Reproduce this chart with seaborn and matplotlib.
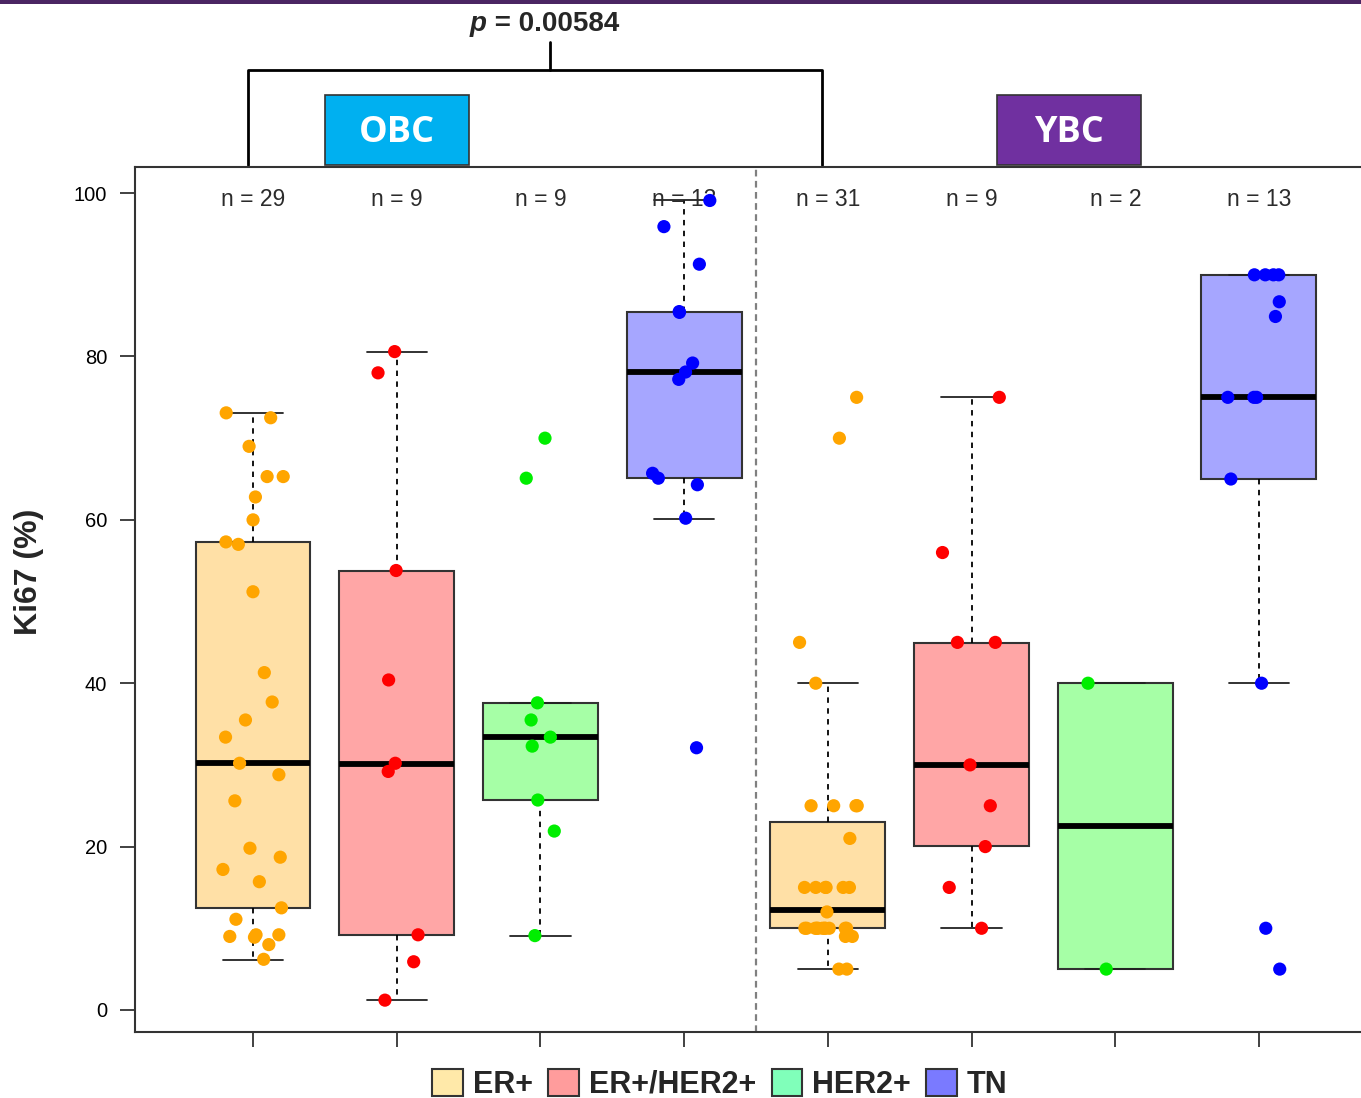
import numpy as np
import pandas as pd
import matplotlib
matplotlib.use("Agg")
import matplotlib.pyplot as plt
import matplotlib.transforms as mtransforms
from matplotlib.patches import Patch, Rectangle
from matplotlib.lines import Line2D
import seaborn as sns

# -------------------------------
# Data
# -------------------------------
groups = ["OBC ER+", "OBC ER+/HER2+", "OBC HER2+", "OBC TN",
          "YBC ER+", "YBC ER+/HER2+", "YBC HER2+", "YBC TN"]
subtypes = ["ER+", "ER+/HER2+", "HER2+", "TN"]
n_counts = [29, 9, 9, 13, 31, 9, 2, 13]

obc_er = [73.1, 72.5, 69.0, 65.3, 65.3, 62.8, 60.0, 57.3, 57.0, 51.2, 41.3,
          37.7, 35.5, 33.4, 30.2, 28.8, 25.6, 19.8, 18.7, 17.2, 15.7, 12.5,
          11.1, 9.2, 9.2, 9.0, 8.9, 8.0, 6.2]
obc_er_her2 = [80.6, 78.0, 53.8, 40.4, 30.2, 29.2, 9.2, 5.9, 1.2]
obc_her2 = [70.0, 65.1, 37.6, 35.5, 33.4, 32.3, 25.7, 21.9, 9.1]
obc_tn = [99.1, 95.9, 91.3, 85.5, 85.4, 79.2, 78.1, 77.2, 65.7, 65.1, 64.3,
          60.2, 32.1]
ybc_er = [75, 70, 45, 40, 25, 25, 25, 25, 21, 15, 15, 15, 15, 15, 15, 12,
          10, 10, 10, 10, 10, 10, 10, 10, 10, 10, 10, 9, 9, 5, 5]
ybc_er_her2 = [75, 56, 45, 45, 30, 25, 20, 15, 10]
ybc_her2 = [40, 5]
ybc_tn = [90, 90, 90, 90, 86.7, 84.9, 75, 75, 75, 65, 40, 10, 5]

# box statistics as drawn (R hinges)
box_q1 = [12.5, 9.2, 25.7, 65.1, 10.0, 20.1, 5.0, 65.0]
box_med = [30.2, 30.1, 33.4, 78.1, 12.2, 30.0, 22.5, 75.0]
box_q3 = [57.3, 53.7, 37.6, 85.4, 23.0, 44.9, 40.0, 90.0]
whisk_lo = [6.1, 1.2, 9.1, 60.1, 5.0, 10.0, 5.0, 40.0]
whisk_hi = [73.1, 80.6, 37.6, 99.1, 40.0, 75.0, 40.0, 90.0]

p_value = "0.00584"

# -------------------------------
# Colours
# -------------------------------
point_colors = ["#FFA500", "#FF0000", "#00EE00", "#0000FF"]
box_colors = ["#FFE0A6", "#FFA6A6", "#A6FFA6", "#A6A6FF"]
legend_colors = ["#FFE9A9", "#FF9C9C", "#80FFBA", "#7A7AFF"]

# -------------------------------
# Long-format frame
# -------------------------------
series = [obc_er, obc_er_her2, obc_her2, obc_tn,
          ybc_er, ybc_er_her2, ybc_her2, ybc_tn]
rows = []
for g, vals in zip(groups, series):
    sub = g.split(" ", 1)[1]
    for v in vals:
        rows.append({"group": g, "subtype": sub, "ki67": v})
df = pd.DataFrame(rows)

# -------------------------------
# Plot
# -------------------------------
sns.set_style("ticks")
plt.rcParams["font.family"] = ["Liberation Sans", "DejaVu Sans"]

fig = plt.figure(figsize=(13.61, 10.98), dpi=100)
ax = fig.add_axes([135 / 1361, 1 - 1032 / 1098, 1 - 135 / 1361, 865 / 1098])

stats = []
for i in range(len(groups)):
    stats.append(dict(med=box_med[i], q1=box_q1[i], q3=box_q3[i],
                      whislo=whisk_lo[i], whishi=whisk_hi[i], fliers=[]))
bp = ax.bxp(stats, positions=range(len(groups)), widths=0.8, patch_artist=True,
            showfliers=False, manage_ticks=False, capwidths=0.42,
            boxprops=dict(edgecolor="#333333", linewidth=1.5),
            medianprops=dict(color="black", linewidth=4.2, solid_capstyle="butt"),
            whiskerprops=dict(color="black", linewidth=1.3, linestyle=(0, (3, 3))),
            capprops=dict(color="#222222", linewidth=1.3))
for i, patch in enumerate(bp["boxes"]):
    patch.set_facecolor(box_colors[i % 4])

np.random.seed(7)
sns.stripplot(data=df, x="group", y="ki67", hue="subtype", order=groups,
              hue_order=subtypes, palette=point_colors, jitter=0.22, size=9.5,
              linewidth=0, legend=False, ax=ax, zorder=4)

# n labels
for i, n in enumerate(n_counts):
    ax.text(i, 99.2, f"n = {n}", ha="center", va="center", fontsize=16.5,
            color="#2b2b2b", zorder=3)

# OBC / YBC separator
ax.axvline(3.5, color="#808080", linestyle=(0, (3, 2)), linewidth=1.6, zorder=1)

ax.set_xlim(-0.821, 7.71)
ax.set_ylim(-2.7, 103.2)
ax.set_yticks([0, 20, 40, 60, 80, 100])
ax.set_xticks(range(len(groups)))
ax.set_xticklabels([])
ax.set_xlabel("")
ax.set_ylabel("Ki67 (%)", fontsize=23, fontweight="bold")
ax.yaxis.set_label_coords(-0.074, 0.532)
ax.tick_params(axis="y", length=11, width=1.3, labelsize=14.5, pad=9, colors="#333333",
               labelcolor="black")
ax.tick_params(axis="x", length=11, width=1.3, colors="#333333")
for side in ["left", "top", "bottom"]:
    ax.spines[side].set_linewidth(1.5)
    ax.spines[side].set_color("#333333")
ax.spines["right"].set_visible(False)

# -------------------------------
# Header: bracket, p-value, cohort boxes
# -------------------------------
trans = mtransforms.blended_transform_factory(ax.transData, ax.transAxes)
yb = (1032 - 70) / 865
yleg = (1032 - 165) / 865
ytop = (1032 - 42) / 865
for xs, ys in [([-0.035, -0.035, 3.96, 3.96], [yleg, yb, yb, yleg]),
               ([2.07, 2.07], [yb, ytop])]:
    ax.add_line(Line2D(xs, ys, transform=trans, color="black", linewidth=2,
                       clip_on=False))

t1 = fig.text(470 / 1361, 1 - 24 / 1098, "p", fontsize=20, fontweight="bold",
              style="italic", ha="left", va="center")
ax.annotate(" = " + p_value, xy=(1, 0), xycoords=t1, fontsize=20,
            fontweight="bold", ha="left", va="bottom")

for label, x0, color in [("OBC", 325, "#00B0F0"), ("YBC", 997, "#7030A0")]:
    fig.patches.append(Rectangle((x0 / 1361, 1 - 165 / 1098), 144 / 1361, 70 / 1098,
                                 transform=fig.transFigure, facecolor=color,
                                 edgecolor="#333333", linewidth=1.2))
    fig.text((x0 + 72) / 1361, 1 - 133 / 1098, label, fontsize=26,
             fontweight="bold", color="white", ha="center", va="center",
             family=["Open Sans", "DejaVu Sans"])

# purple strip at the very top
fig.patches.append(Rectangle((0, 1 - 4 / 1098), 1, 4 / 1098, transform=fig.transFigure,
                             facecolor="#4B2563", edgecolor="none"))

# -------------------------------
# Legend
# -------------------------------
handles = [Patch(facecolor=c, edgecolor="#333333", linewidth=1.5) for c in legend_colors]
fig.legend(handles, subtypes, loc="center", bbox_to_anchor=(0.529, 0.0125), ncol=4,
           frameon=False, prop=dict(size=22, weight="bold"), handlelength=1.0,
           handleheight=1.0, handletextpad=0.33, columnspacing=0.5, borderpad=0)

fig.savefig("out.png", dpi=100)
